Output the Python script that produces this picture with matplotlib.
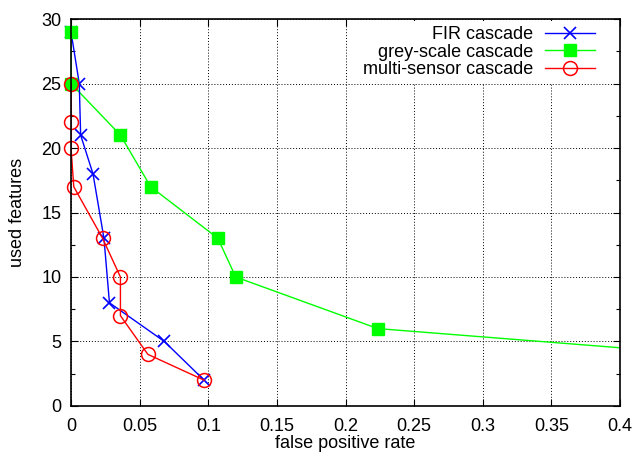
"""Used features vs false positive rate for three detector cascades (gnuplot look)."""
import matplotlib
matplotlib.use("Agg")
import matplotlib.pyplot as plt
from matplotlib.lines import Line2D
from matplotlib.ticker import MultipleLocator

plt.rcParams["font.family"] = ["Liberation Sans", "DejaVu Sans"]
plt.rcParams["font.size"] = 13

# --- data --------------------------------------------------------------------
fir_fpr = [0.0, 0.006, 0.007, 0.016, 0.024, 0.028, 0.068, 0.097]
fir_feat = [29, 25, 21, 18, 13, 8, 5, 2]

grey_fpr = [0.0, 0.0, 0.036, 0.058, 0.107, 0.120, 0.2235, 0.58]
grey_feat = [29, 25, 21, 17, 13, 10, 6, 3]

multi_fpr = [0.0, 0.0, 0.0, 0.002, 0.023, 0.036, 0.036, 0.056, 0.097]
multi_feat = [25, 22, 20, 17, 13, 10, 7, 4, 2]

X_TICKS = [0, 0.05, 0.1, 0.15, 0.2, 0.25, 0.3, 0.35, 0.4]
X_LABELS = ["0", "0.05", "0.1", "0.15", "0.2", "0.25", "0.3", "0.35", "0.4"]
X_MAX = 0.4

SERIES = [
    # (x, y, label, colour, marker kwargs, line zorder, marker zorder)
    (fir_fpr, fir_feat, "FIR cascade", "#0000ff",
     dict(marker="x", ms=9, mew=1.2), 4, 4.5),
    (grey_fpr, grey_feat, "grey-scale cascade", "#00ff00",
     dict(marker="s", ms=8.5, mec="#00ff00"), 3, 4.7),
    (multi_fpr, multi_feat, "multi-sensor cascade", "#ff0000",
     dict(marker="o", ms=10, mfc="none", mew=1.1), 5, 5.5),
]

fig = plt.figure(figsize=(6.37, 4.53), dpi=100)
ax = fig.add_axes([0.1115, 0.1038, 0.8618, 0.8542])

handles = []
for xs, ys, label, color, mkw, zl, zm in SERIES:
    # line clipped to the frame, markers drawn unclipped like gnuplot
    ax.plot(xs, ys, color=color, lw=1.0, zorder=zl)
    inside = [(x, y) for x, y in zip(xs, ys) if x <= X_MAX]
    ax.plot([p[0] for p in inside], [p[1] for p in inside], ls="none",
            color=color, clip_on=False, zorder=zm, **mkw)
    handles.append(Line2D([], [], color=color, lw=1.0, label=label, **mkw))

ax.set_xlim(0, X_MAX)
ax.set_ylim(0, 30)
ax.set_xticks(X_TICKS)
ax.set_xticklabels(X_LABELS)
ax.yaxis.set_major_locator(MultipleLocator(5))
ax.yaxis.set_minor_locator(MultipleLocator(2.5))
ax.tick_params(which="both", direction="in", top=True, right=True,
               colors="black")
ax.tick_params(axis="x", pad=9)
ax.tick_params(axis="y", pad=7)
ax.tick_params(which="major", length=5, width=0.8)
ax.tick_params(which="minor", length=3, width=0.8)
ax.tick_params(axis="x", which="minor", top=False, bottom=False)
ax.grid(True, which="major", color="black", linestyle=(0, (1, 2)), lw=0.7)
for sp in ax.spines.values():
    sp.set_linewidth(1.2)
    sp.set_color("black")
    sp.set_zorder(6)

ax.set_xlabel("false positive rate", labelpad=0)
ax.set_ylabel("used features", labelpad=11)

leg = ax.legend(handles=handles, loc="upper right", markerfirst=False,
                handlelength=2.8, handletextpad=0.65, labelspacing=0.02,
                borderaxespad=0.0, borderpad=0.3, fancybox=False,
                framealpha=1, bbox_to_anchor=(0.965, 0.995))
leg.get_frame().set_edgecolor("white")
leg.get_frame().set_linewidth(0)
leg.set_zorder(2.5)

fig.savefig("out.png", dpi=100)
